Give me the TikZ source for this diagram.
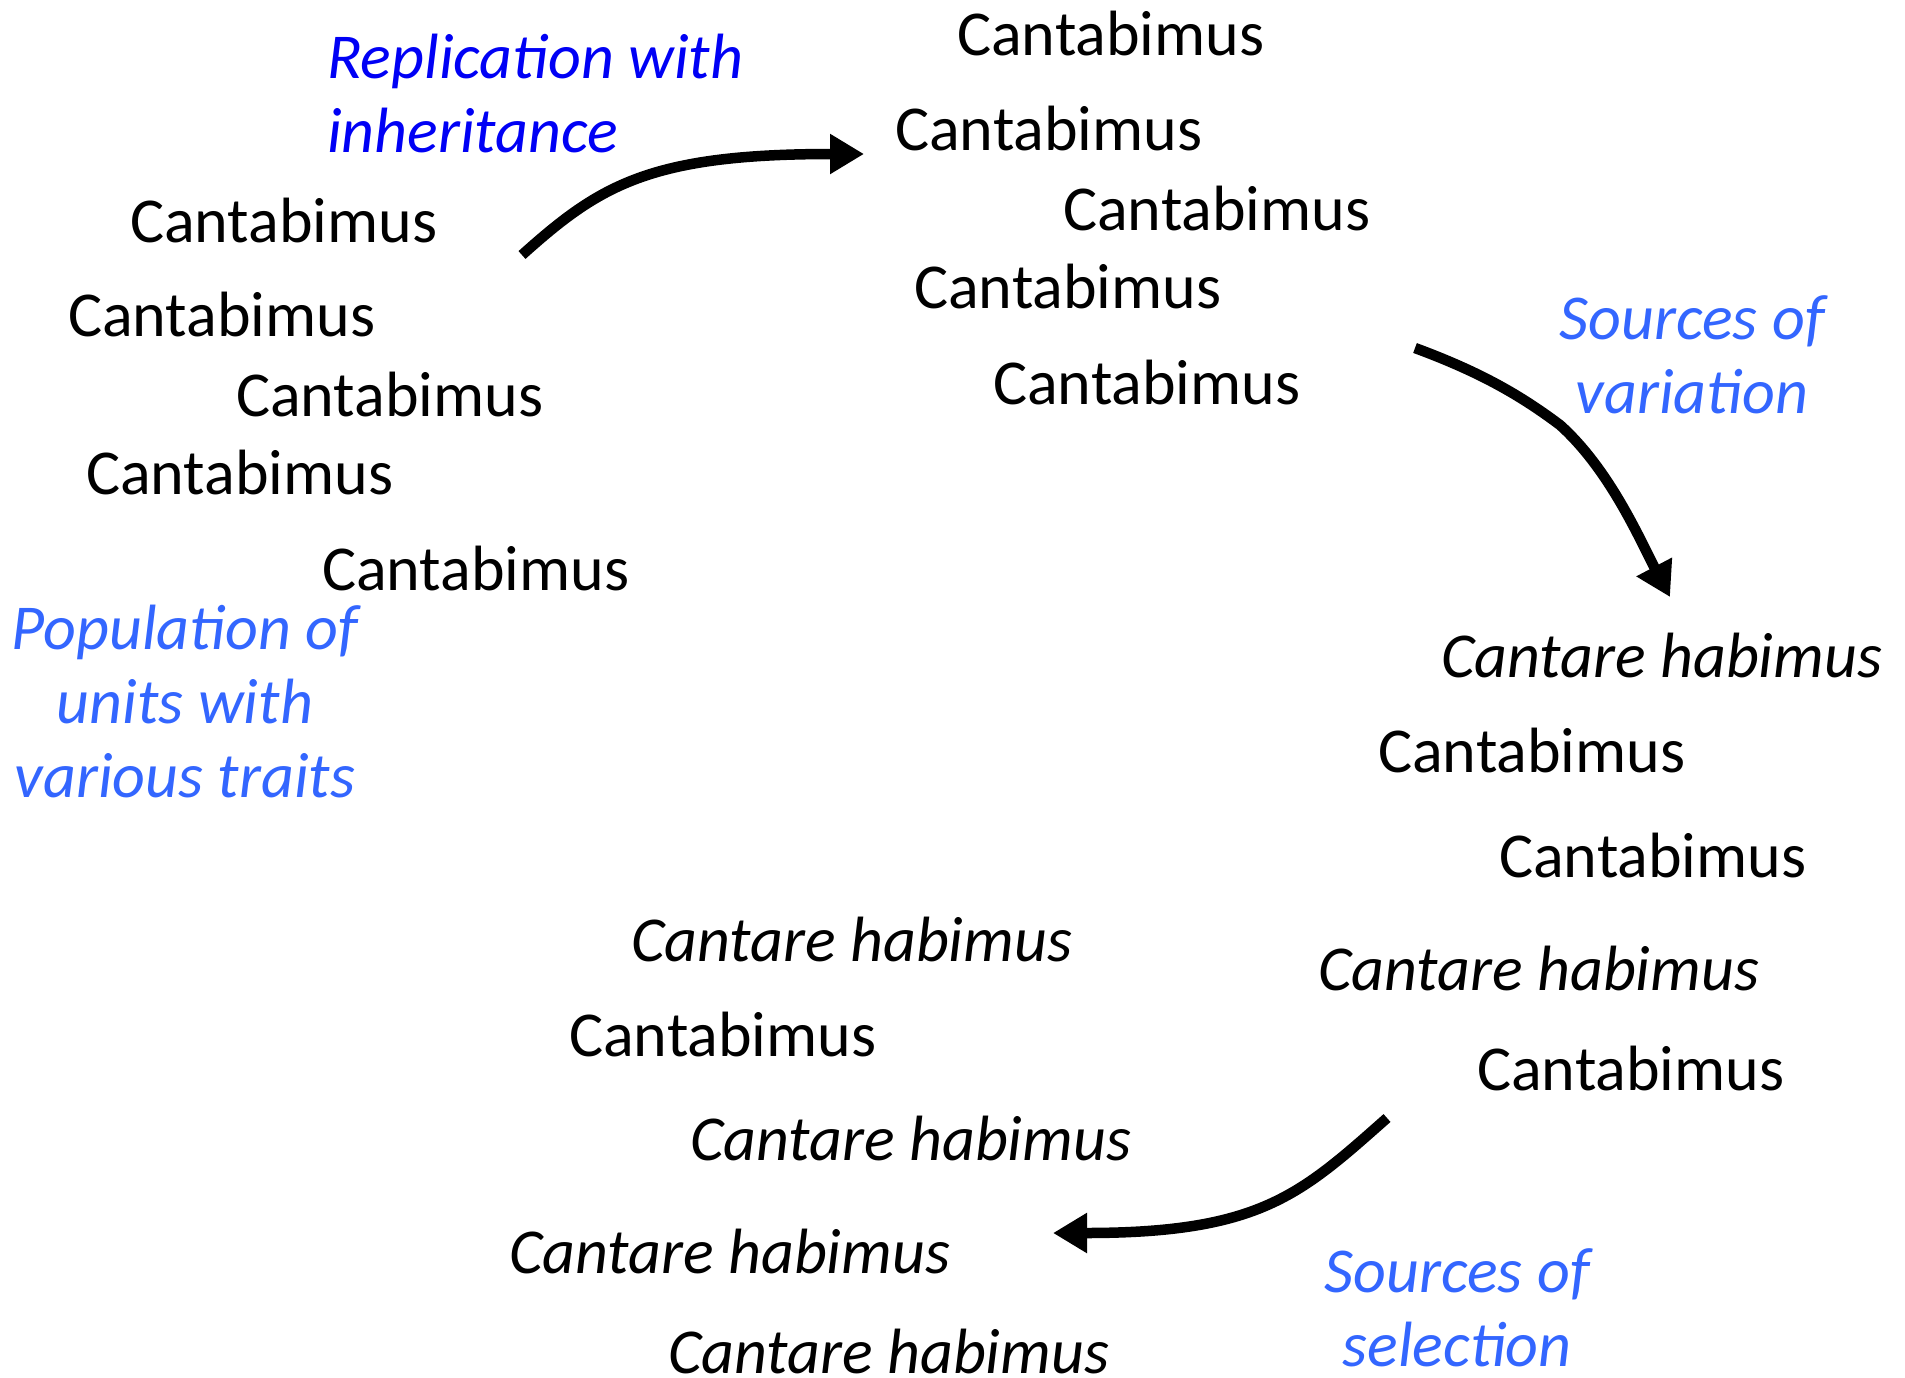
\documentclass[tikz,border=0pt]{standalone}
\usepackage{fontspec}
\setmainfont{Carlito}
\usetikzlibrary{arrows.meta}
\definecolor{deepblue}{RGB}{0,0,245}
\definecolor{lightblue}{RGB}{51,102,255}
\tikzset{
  word/.style={anchor=west, inner sep=0pt, font=\fontsize{64}{74}\selectfont},
  iword/.style={word, font=\fontsize{64}{74}\selectfont\itshape},
  label/.style={inner sep=0pt, font=\fontsize{64}{74}\selectfont\itshape, text=lightblue, align=center},
  bigarrow/.style={line width=10.5pt, -{Triangle[length=34pt,width=38pt]}}
}
\begin{document}
\begin{tikzpicture}[x=1pt,y=-1pt]
\useasboundingbox (0,0) rectangle (1905,1377);
% top group
\node[word] (t1) at (957,34) {Cantabimus};
\node[word] (t2) at (895,129) {Cantabimus};
\node[word] (t3) at (1063,209) {Cantabimus};
\node[word] (t4) at (914,287) {Cantabimus};
\node[word] (t5) at (993,383) {Cantabimus};
% left group
\node[word] (l1) at (130,221) {Cantabimus};
\node[word] (l2) at (68,315) {Cantabimus};
\node[word] (l3) at (236,395) {Cantabimus};
\node[word] (l4) at (86,473) {Cantabimus};
\node[word] (l5) at (322,569) {Cantabimus};
% right group
\node[iword] (r1) at (1441,656) {Cantare habimus};
\node[word] (r2) at (1378,751) {Cantabimus};
\node[word] (r3) at (1499,855) {Cantabimus};
\node[iword] (r4) at (1318,968) {Cantare habimus};
\node[word] (r5) at (1477,1068) {Cantabimus};
% bottom group
\node[iword] (b1) at (631,939) {Cantare habimus};
\node[word] (b2) at (569,1034) {Cantabimus};
\node[iword] (b3) at (690,1138) {Cantare habimus};
\node[iword] (b4) at (509,1251) {Cantare habimus};
\node[iword] (b5) at (668,1351) {Cantare habimus};
% labels
\node[label, text=deepblue, align=left, anchor=west] (rep) at (327,94) {Replication with\\inheritance};
\node[label] (var) at (1692,355) {Sources of\\variation};
\node[label] (pop) at (185,702) {Population of\\units with\\various traits};
\node[label] (sel) at (1457,1308) {Sources of\\selection};
% arrows
\coordinate (a1s) at (522,255);
\coordinate (a1e) at (864,154);
\coordinate (a2s) at (1415,348);
\coordinate (a2m) at (1560,425);
\coordinate (a2e) at (1670,597);
\coordinate (a3s) at (1387,1118);
\coordinate (a3e) at (1053,1233);
\draw[bigarrow] (a1s) .. controls (600,185) and (650,154) .. (a1e);
\draw[bigarrow] (a2s) .. controls (1480,372) and (1520,395) .. (a2m) .. controls (1610,470) and (1640,540) .. (a2e);
\draw[bigarrow] (a3s) .. controls (1300,1195) and (1260,1233) .. (a3e);
\end{tikzpicture}
\end{document}
